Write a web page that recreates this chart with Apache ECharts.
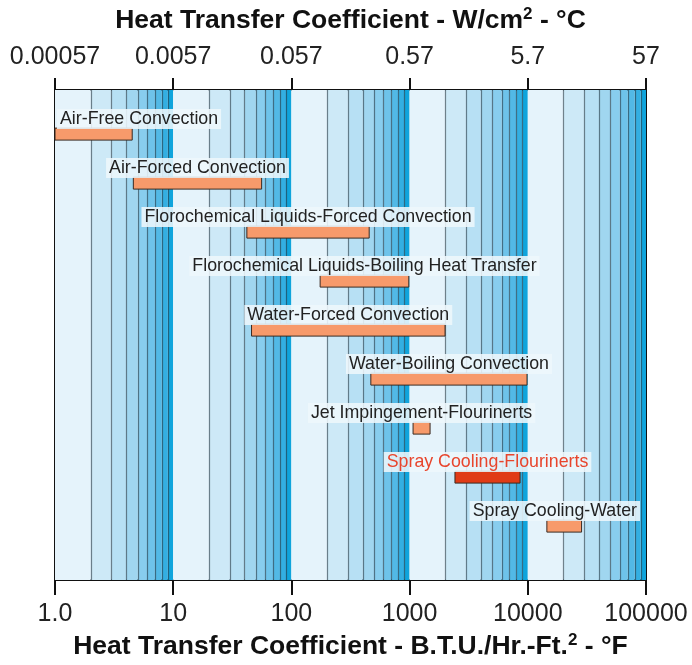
<!DOCTYPE html>
<html>
<head>
<meta charset="utf-8">
<script src="https://cdn.jsdelivr.net/npm/echarts@6/dist/echarts.min.js"></script>
<style>
html,body{margin:0;padding:0;background:#fff;}
#chart{width:692px;height:665px;}
</style>
</head>
<body>
<div id="chart"></div>
<script>
// ---- data ----
const categories = [
  'Air-Free Convection',
  'Air-Forced Convection',
  'Florochemical Liquids-Forced Convection',
  'Florochemical Liquids-Boiling Heat Transfer',
  'Water-Forced Convection',
  'Water-Boiling Convection',
  'Jet Impingement-Flourinerts',
  'Spray Cooling-Flourinerts',
  'Spray Cooling-Water'
];
const lowValues  = [1.0, 4.6, 42, 175, 46, 470, 1070, 2420, 14500];
const highValues = [4.5, 56, 455, 985, 1995, 9850, 1490, 8600, 28500];
const highlighted = 'Spray Cooling-Flourinerts';
const bottomTickLabels = ['1.0', '10', '100', '1000', '10000', '100000'];
const topTickLabels = ['0.00057', '0.0057', '0.057', '0.57', '5.7', '57'];
const stripMultipliers = [1, 2, 3, 4, 5, 6, 7, 8, 9];
const bottomTitle = 'Heat Transfer Coefficient - B.T.U./Hr.-Ft.';
const topTitle = 'Heat Transfer Coefficient - W/cm';

// ---- styling ----
const stripColors = ['#e5f3fb', '#cde9f7', '#b7e0f4', '#a0d6f0', '#88cdee', '#6ec3ea', '#52b9e6', '#33afe2', '#0fa4dc'];
const FONT = '"Liberation Sans", Arial, Helvetica, sans-serif';
const LABEL_FONT_SIZE = 17.8;

const measureCtx = document.createElement('canvas').getContext('2d');
function textWidth(t) {
  measureCtx.font = LABEL_FONT_SIZE + 'px ' + FONT;
  return measureCtx.measureText(t).width;
}

// band data derived from the axis decades
const stripData = [];
for (let d = 0; d < bottomTickLabels.length - 1; d++) {
  stripMultipliers.forEach((m, k) => {
    const base = Math.pow(10, d);
    stripData.push([m * base, (m + 1) * base, k]);
  });
}

const barData = categories.map((c, i) => [lowValues[i], highValues[i], i + 1, c]);

const chart = echarts.init(document.getElementById('chart'), null, {renderer: 'canvas'});

function tickFmt(labels) {
  return function (v) {
    const idx = Math.round(Math.log10(v));
    return labels[idx] !== undefined ? labels[idx] : '';
  };
}

const axisCommon = {
  type: 'log',
  logBase: 10,
  min: 1,
  max: 100000,
  splitLine: {show: false},
  minorTick: {show: false},
  axisLine: {show: true, lineStyle: {color: '#111', width: 2}},
  nameLocation: 'middle',
  nameTextStyle: {
    fontFamily: FONT, fontSize: 26, fontWeight: 'bold', color: '#111',
    rich: {
      sup: {fontFamily: FONT, fontSize: 17, fontWeight: 'bold', color: '#111', verticalAlign: 'top', padding: [0, 0, 12, 0]},
      t: {fontFamily: FONT, fontSize: 26.5, fontWeight: 'bold', color: '#111'}
    }
  }
};

const option = {
  animation: false,
  backgroundColor: '#ffffff',
  grid: {left: 55, right: 46, top: 90, bottom: 82, containLabel: false},
  xAxis: [
    Object.assign({}, axisCommon, {
      position: 'bottom',
      name: '{t|' + bottomTitle + '}{sup|2}{t| - °F}',
      nameGap: 52,
      axisTick: {show: true, length: 15, lineStyle: {color: '#111', width: 2}},
      axisLabel: {
        formatter: tickFmt(bottomTickLabels), margin: 22,
        fontFamily: FONT, fontSize: 25, color: '#222',
        showMinLabel: true, showMaxLabel: true, hideOverlap: false
      }
    }),
    Object.assign({}, axisCommon, {
      position: 'top',
      name: '{t|' + topTitle + '}{sup|2}{t| - °C}',
      nameGap: 55,
      axisTick: {show: true, length: 12, lineStyle: {color: '#111', width: 2}},
      axisLabel: {
        formatter: tickFmt(topTickLabels), margin: 20,
        fontFamily: FONT, fontSize: 25, color: '#222',
        showMinLabel: true, showMaxLabel: true, hideOverlap: false
      }
    })
  ],
  yAxis: [
    {type: 'value', min: 0.1, max: 10.1, inverse: true, position: 'left',
     axisLine: {show: true, lineStyle: {color: '#111', width: 2}},
     axisTick: {show: false}, axisLabel: {show: false}, splitLine: {show: false}},
    {type: 'value', min: 0.1, max: 10.1, inverse: true, position: 'right',
     axisLine: {show: true, lineStyle: {color: '#111', width: 2}},
     axisTick: {show: false}, axisLabel: {show: false}, splitLine: {show: false}}
  ],
  series: [
    {
      type: 'custom',
      name: 'strips',
      xAxisIndex: 0, yAxisIndex: 0,
      silent: true,
      z: 1,
      data: stripData,
      encode: {x: [0, 1]},
      renderItem: function (params, api) {
        const cs = params.coordSys;
        const x0 = api.coord([api.value(0), 1])[0];
        const x1 = api.coord([api.value(1), 1])[0];
        const k = api.value(2);
        const children = [{
          type: 'rect',
          shape: {x: x0, y: cs.y, width: x1 - x0, height: cs.height},
          style: {fill: stripColors[k]}
        }];
        if (k > 0) {
          const xl = Math.round(x0) + 0.5;
          children.push({
            type: 'line',
            shape: {x1: xl, y1: cs.y, x2: xl, y2: cs.y + cs.height},
            style: {stroke: 'rgba(40,55,65,0.6)', lineWidth: 1.2}
          });
        }
        return {type: 'group', children: children};
      }
    },
    {
      type: 'custom',
      name: 'ranges',
      xAxisIndex: 0, yAxisIndex: 0,
      z: 5,
      clip: false,
      data: barData,
      encode: {x: [0, 1], y: 2},
      renderItem: function (params, api) {
        const cs = params.coordSys;
        const p0 = api.coord([api.value(0), api.value(2)]);
        const p1 = api.coord([api.value(1), api.value(2)]);
        const name = categories[params.dataIndex];
        const isHi = name === highlighted;
        const h = 12;
        const w = textWidth(name) + 6;
        const cx = (p0[0] + p1[0]) / 2;
        let left = cx - w / 2;
        left = Math.max(cs.x + 2, Math.min(left, cs.x + cs.width - 6 - w));
        return {
          type: 'group',
          children: [
            {
              type: 'rect',
              shape: {x: p0[0], y: p0[1] - h / 2, width: p1[0] - p0[0], height: h},
              style: {fill: isHi ? '#e03b16' : '#f79a6b', stroke: '#3a2a22', lineWidth: 1}
            },
            {
              type: 'text',
              x: left,
              y: p0[1] - 15,
              style: {
                text: name,
                fill: isHi ? '#e8452c' : '#222',
                font: LABEL_FONT_SIZE + 'px ' + FONT,
                align: 'left',
                verticalAlign: 'middle',
                backgroundColor: 'rgba(238,247,252,0.88)',
                padding: [1, 3]
              }
            }
          ]
        };
      }
    }
  ]
};
chart.setOption(option);
</script>
</body>
</html>
